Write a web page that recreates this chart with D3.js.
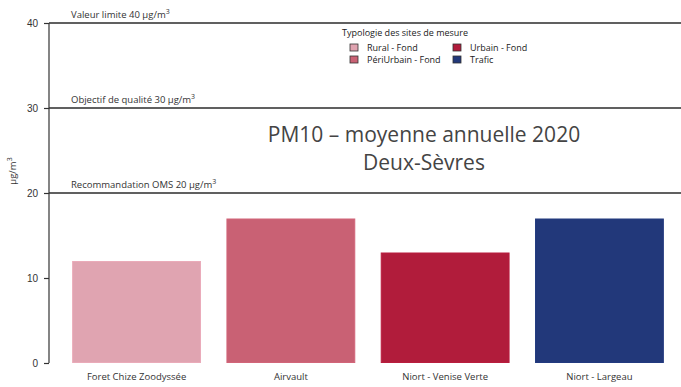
<!DOCTYPE html>
<html>
<head>
<meta charset="utf-8">
<script src="https://cdn.jsdelivr.net/npm/d3@7"></script>
<style>
  html, body { margin: 0; padding: 0; background: #fff; }
  svg { display: block; }
</style>
</head>
<body>
<svg id="chart" width="681" height="387"></svg>
<script>
// Stations and their 2020 annual PM10 mean (µg/m³)
const stations = ["Foret Chize Zoodyssée", "Airvault", "Niort - Venise Verte", "Niort - Largeau"];
const values = [12, 17, 13, 17];
const stationTypes = ["Rural - Fond", "PériUrbain - Fond", "Urbain - Fond", "Trafic"];

// Site typology legend
const legendTypes = ["Rural - Fond", "PériUrbain - Fond", "Urbain - Fond", "Trafic"];
const typeColors = ["#e0a4b1", "#c96174", "#b11c3b", "#22387a"];

// Regulatory thresholds
const thresholdValues = [40, 30, 20];
const thresholdLabels = ["Valeur limite 40 µg/m", "Objectif de qualité 30 µg/m", "Recommandation OMS 20 µg/m"];

const yTicks = [0, 10, 20, 30, 40];

const svg = d3.select("#chart");
const margin = { left: 49, right: 0, top: 23, bottom: 24 };
const W = 681, H = 387;

const y = d3.scaleLinear().domain([0, 40]).range([H - margin.bottom, margin.top]);
const x = d3.scaleBand().domain(stations).range([margin.left, 687])
  .paddingInner(0.165).paddingOuter(0.15);
const color = d3.scaleOrdinal().domain(legendTypes).range(typeColors);

// Threshold lines with their labels
const thr = svg.append("g");
thresholdValues.forEach((v, i) => {
  thr.append("line")
    .attr("x1", margin.left).attr("x2", W)
    .attr("y1", y(v)).attr("y2", y(v))
    .attr("stroke", "#2b2b2b").attr("stroke-width", 1.3);
  const t = thr.append("text")
    .attr("x", 71).attr("y", y(v) - 5)
    .attr("font-family", "Open Sans, sans-serif").attr("font-size", 9.5)
    .attr("fill", "#333");
  t.append("tspan").text(thresholdLabels[i]);
  t.append("tspan").attr("dy", -4).attr("font-size", 7).text("3");
});

// Bars, with a faint lighter outline
svg.append("g").selectAll("rect")
  .data(stations)
  .join("rect")
  .attr("x", d => x(d) + 0.5)
  .attr("width", x.bandwidth() - 1)
  .attr("y", (d, i) => y(values[i]) + 0.5)
  .attr("height", (d, i) => y(0) - y(values[i]) - 1)
  .attr("fill", (d, i) => color(stationTypes[i]))
  .attr("stroke", (d, i) => d3.color(color(stationTypes[i])).brighter(0.12))
  .attr("stroke-width", 1);

// Y axis
const yAxis = d3.axisLeft(y).tickValues(yTicks).tickSize(5).tickPadding(6);
const ya = svg.append("g").attr("transform", `translate(${margin.left},0)`).call(yAxis);
ya.select(".domain").attr("stroke", "#333").attr("stroke-width", 1.2).attr("d", `M0,${y(40)}V${y(0)}`);
ya.selectAll(".tick line").attr("stroke", "#333").attr("stroke-width", 1.2);
ya.selectAll(".tick text").attr("font-family", "Liberation Sans, Arial, sans-serif")
  .attr("font-size", 10).attr("fill", "#333");

// X labels
const xAxis = d3.axisBottom(x).tickSize(0).tickPadding(10);
const xa = svg.append("g").attr("transform", `translate(0,${y(0)})`).call(xAxis);
xa.select(".domain").remove();
xa.selectAll(".tick text").attr("font-family", "Open Sans, sans-serif")
  .attr("font-size", 9.5).attr("fill", "#333");

// Y axis title
const yt = svg.append("text")
  .attr("transform", `translate(16,${y(20) - 22}) rotate(-90)`)
  .attr("text-anchor", "middle")
  .attr("font-family", "Open Sans, sans-serif").attr("font-size", 9.5).attr("fill", "#333");
yt.append("tspan").text("µg/m");
yt.append("tspan").attr("dy", -4).attr("font-size", 7).text("3");

// Title
const title = svg.append("g").attr("font-family", "Open Sans, sans-serif")
  .attr("font-size", 21).attr("fill", "#444").attr("text-anchor", "middle");
title.append("text").attr("x", 424).attr("y", 142).text("PM10 – moyenne annuelle 2020");
title.append("text").attr("x", 424).attr("y", 170).text("Deux-Sèvres");

// Legend
const lg = svg.append("g").attr("font-family", "Open Sans, sans-serif").attr("font-size", 9).attr("fill", "#222");
lg.append("text").attr("x", 342).attr("y", 36).text("Typologie des sites de mesure");
legendTypes.forEach((t, i) => {
  const col = Math.floor(i / 2), row = i % 2;
  const gx = 350 + col * 103, gy = 44 + row * 12;
  lg.append("rect").attr("x", gx).attr("y", gy).attr("width", 8).attr("height", 7)
    .attr("fill", color(t)).attr("stroke", "#333").attr("stroke-width", 0.8);
  lg.append("text").attr("x", gx + 17).attr("y", gy + 7).text(t);
});
</script>
</body>
</html>
